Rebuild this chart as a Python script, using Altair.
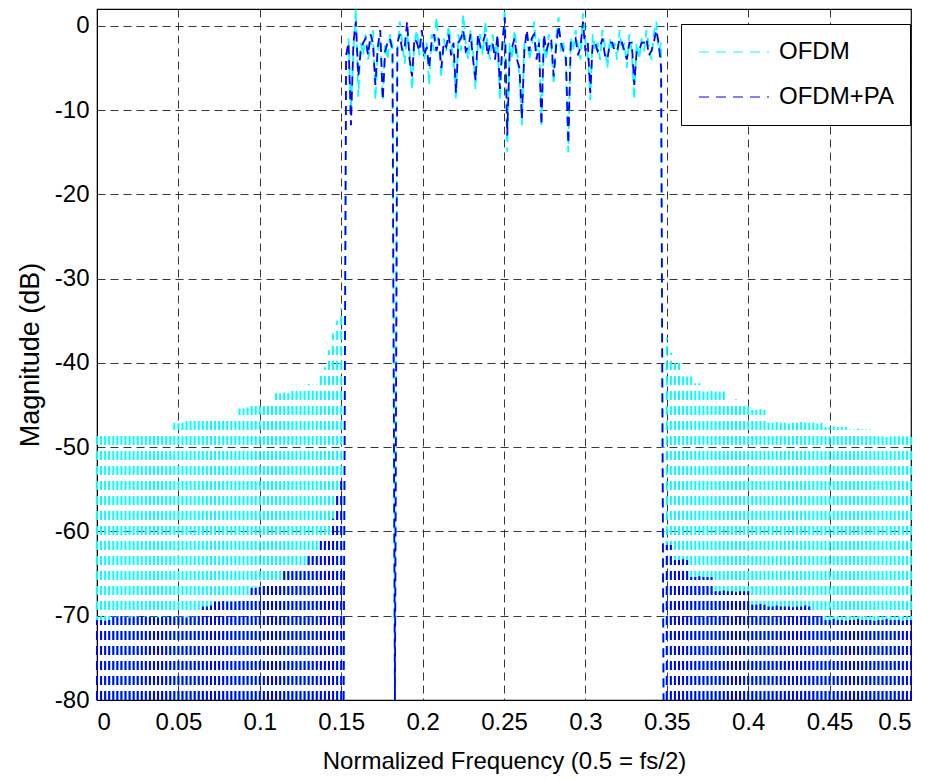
import altair as alt
import pandas as pd

# ---------------- data ----------------
SERIES = ["OFDM", "OFDM+PA"]
COLORS = ["#00FFFF", "#0000FF"]

# in-band spectrum: bins from 0.1515 with step 0.0015 (132 bins)
band_start = 0.1515
band_step = 0.0015
ofdm_band = [
    -80, -4.5, -1.5, -10, -3, 2.0, -8.4, -2, -3.5, -1,
    -4, -2.5, -0.5, -8.8, -3, -1.5, -8.8, -2, -4, -1,
    -2.5, -80, -3, 0.5, -2, -4.5, -1, -3, -7.6, -2,
    -0.5, -3.5, -1.5, -4, -2, -7, -1, -3, 1, -2.5,
    -6, -1.5, -3, 0, -2, -4, -8.8, -1, -3, 1.3,
    -2, -4, -0.5, -3, -7.5, -2, -1, -3.5, 0.5, -2.5,
    -4, -1, -3, -2, -8.8, -3, 2.0, -15, -2, -4,
    -0.5, -3, -6, -11.8, -2, -1, -4, -2.5, 0.5, -3,
    -1.5, -11.8, -2, -4, -1, -2.5, -7, -1.5, 1, -3,
    -2, -4.5, -15, -1.5, -3, -0.5, -2.5, -4, 1.5, -2,
    -3.5, -8.8, -1, -3, -2, -4, -0.5, -2.5, -5, -1.5,
    -3, -2, -4, -0.5, -3, -2, -5, -1, -3, -8.8,
    -2, -4, -1.5, -3, -0.5, -2.5, -4, -1, 0.5, -3,
    -2, -80,
]
pa_band = [
    -80, -3.5, -2, -11.8, -2, 0.5, -6, -3, -2, -1.5,
    -3.5, -1, -2, -7, -2.5, -0.5, -8.8, -3, -2, -1.5,
    -3, -80, -2, -1, -3, -2.5, 0.5, -4, -6, -1.5,
    -2, -3, -0.5, -3.5, -2.5, -5, -2, -1, -3, -1.5,
    -5, -2, -2.5, -1, -3.5, -2, -8, -2, -1.5, -0.5,
    -3, -2.5, -1, -4, -6.5, -1, -2.5, -2, -1, -3.5,
    -2, -2, -4, -1, -7.5, -2, 1, -13, -3, -2.5,
    -1.5, -4, -5, -11, -3, -0.5, -3, -1.5, -1, -4,
    -2, -11.8, -1, -3, -2, -1.5, -6, -2.5, 0, -2,
    -3, -3.5, -14, -2, -2, -1.5, -3.5, -2.5, 0.5, -3,
    -2, -8, -2, -2, -3, -2.5, -1.5, -3.5, -4, -2,
    -2, -3, -3, -1.5, -2, -3, -4, -2, -2, -7,
    -3, -3, -2, -2, -1.5, -3.5, -3, -2, -0.5, -2,
    -5, -80,
]

# out-of-band spectrum envelopes, bins every 0.0025
left_start, right_start, oob_step = 0.0, 0.35, 0.0025
ofdm_left = (
    [-48.2, -48.0, -48.3, -48.2, -48.1, -48.2, -48.3, -48.2, -48.0, -48.2,
     -48.2, -48.3, -48.1, -48.2, -48.2, -48.0, -48.2, -48.3, -48.2]
    + [-47.1, -47.2, -47.1, -46.8, -46.8]
    + [-46.6, -46.7, -46.6, -46.5, -46.6, -46.6, -46.7, -46.6, -46.6, -46.5, -46.6]
    + [-45.4, -45.4, -45.3, -45.0, -45.0, -44.6, -44.6, -44.5, -44.6]
    + [-43.6, -43.6, -43.5, -43.6, -42.6, -42.6, -42.7, -42.6, -42.5, -42.6, -42.6]
    + [-41.5, -40.5, -38.5, -36.5, -35.0, -33.5]
)
pa_left = (
    [-70.5, -70.5, -70.6, -70.5]
    + [-70.1, -70.1, -70.0, -70.1, -70.2, -70.1, -70.1, -70.0, -70.1, -70.1, -70.1,
       -70.2, -70.1, -70.1, -70.0, -70.1, -70.1, -70.1, -70.2, -70.1, -70.1, -70.0]
    + [-68.9, -68.9, -68.8]
    + [-68.3, -68.3, -68.2, -68.3, -68.3, -68.3]
    + [-67.7, -67.7, -67.6, -66.7, -66.7, -66.6]
    + [-66.3, -66.3, -66.2, -66.3, -66.3]
    + [-64.6, -64.6, -64.5, -64.6, -64.6, -64.6]
    + [-62.6, -62.6, -62.5, -60.8, -60.8, -60.7, -58.5, -55.5, -54.0]
)
ofdm_right = (
    [-37.0, -38.8, -40.0, -40.0, -41.6, -41.6, -41.6, -42.4, -42.4]
    + [-43.4, -43.4, -43.3, -43.4, -43.4, -43.4]
    + [-44.4, -44.4, -44.3, -44.4, -44.4, -44.4]
    + [-45.6, -45.6, -45.5, -45.6]
    + [-47.1, -47.1, -47.0, -47.1, -47.1, -47.2, -47.1, -47.1, -47.0, -47.1,
       -47.1, -47.1, -47.2, -47.1]
    + [-47.6, -47.6, -47.5, -47.6, -47.6, -47.6]
    + [-47.9, -47.9, -47.8, -47.9, -47.9, -47.9, -48.0]
    + [-48.7, -48.7, -48.8, -48.7, -48.7, -48.6, -48.7, -48.7, -48.8]
)
pa_right = (
    [-61.6, -61.6]
    + [-63.4, -63.4, -63.3, -63.4]
    + [-65.4, -65.4, -65.3, -65.4, -65.4, -65.4]
    + [-67.1, -67.1, -67.0, -67.1, -67.1, -67.2, -67.1, -67.1, -67.1]
    + [-68.7, -68.7, -68.6, -68.7]
    + [-68.9, -68.9, -68.8, -68.9, -68.9, -68.9, -69.0, -68.9, -68.9, -68.8, -68.9]
    + [-69.5, -69.5, -69.4]
    + [-70.5, -70.5, -70.4, -70.5, -70.5, -70.6, -70.5, -70.5, -70.4, -70.5, -70.5,
       -70.5, -70.6, -70.5, -70.5, -70.4, -70.5, -70.5, -70.5, -70.6, -70.5, -70.5]
)
FLOOR = -80

x_ticks = [0, 0.05, 0.1, 0.15, 0.2, 0.25, 0.3, 0.35, 0.4, 0.45, 0.5]
y_ticks = [-80, -70, -60, -50, -40, -30, -20, -10, 0]

# ---------------- tables ----------------
line_rows = []
for name, vals in zip(SERIES, [ofdm_band, pa_band]):
    for i, v in enumerate(vals):
        line_rows.append({"f": round(band_start + i * band_step, 5), "db": v, "series": name, "i": i})
lines_df = pd.DataFrame(line_rows)

rule_rows = []
for name, lv, rv in zip(SERIES, [ofdm_left, pa_left], [ofdm_right, pa_right]):
    for i, v in enumerate(lv):
        rule_rows.append({"f": round(left_start + i * oob_step, 5), "top": v, "bottom": FLOOR, "series": name})
    for i, v in enumerate(rv):
        rule_rows.append({"f": round(right_start + i * oob_step, 5), "top": v, "bottom": FLOOR, "series": name})
rules_df = pd.DataFrame(rule_rows)

# ---------------- chart ----------------
FONT = "Liberation Sans"

xscale = alt.Scale(domain=[0, 0.5], nice=False, zero=False)
yscale = alt.Scale(domain=[-80, 2.0], nice=False, zero=False)
cscale = alt.Scale(domain=SERIES, range=COLORS)

xaxis = alt.Axis(values=x_ticks, labelExpr="'' + datum.value",
                 title="Normalized Frequency (0.5 = fs/2)", ticks=False,
                 labelPadding=10, titlePadding=15, titleFontSize=24)
yaxis = alt.Axis(values=y_ticks, labelExpr="'' + datum.value",
                 title="Magnitude (dB)", ticks=False, labelPadding=8,
                 titlePadding=10, titleFontSize=27)

rules = alt.Chart(rules_df).mark_rule(strokeWidth=2, strokeDash=[9, 6]).encode(
    x=alt.X("f:Q", scale=xscale, axis=xaxis),
    y=alt.Y("bottom:Q", scale=yscale, axis=yaxis),
    y2="top:Q",
    color=alt.Color("series:N", scale=cscale,
                    legend=alt.Legend(title=None, orient="none", legendX=584, legendY=15,
                                      symbolType="M-1,0H6", symbolSize=400,
                                      symbolStrokeWidth=1.2, symbolDash=[10, 7],
                                      labelFont=FONT, labelFontSize=24,
                                      labelOffset=58, padding=16, rowPadding=21,
                                      strokeColor="black", fillColor="white")),
)

lines = alt.Chart(lines_df).mark_line(strokeWidth=1.8, strokeDash=[9, 6], clip=True).encode(
    x=alt.X("f:Q", scale=xscale),
    y=alt.Y("db:Q", scale=yscale),
    color=alt.Color("series:N", scale=cscale),
    order="i:Q",
)

chart = alt.layer(rules, lines).properties(
    width=814, height=691,
    padding={"left": 89, "top": 1, "right": 20, "bottom": 80},
    autosize=alt.AutoSizeParams(type="none"),
).configure_view(
    stroke="black", strokeWidth=1.2,
).configure_axis(
    labelFont=FONT, labelFontSize=24, labelColor="black",
    titleFont=FONT, titleFontWeight="normal", titleColor="black",
    gridColor="#222", gridDash=[8, 5], gridWidth=1, gridOpacity=0.9,
    domainColor="black",
)

chart.save("out.html", embed_options={"renderer": "svg", "actions": False})
